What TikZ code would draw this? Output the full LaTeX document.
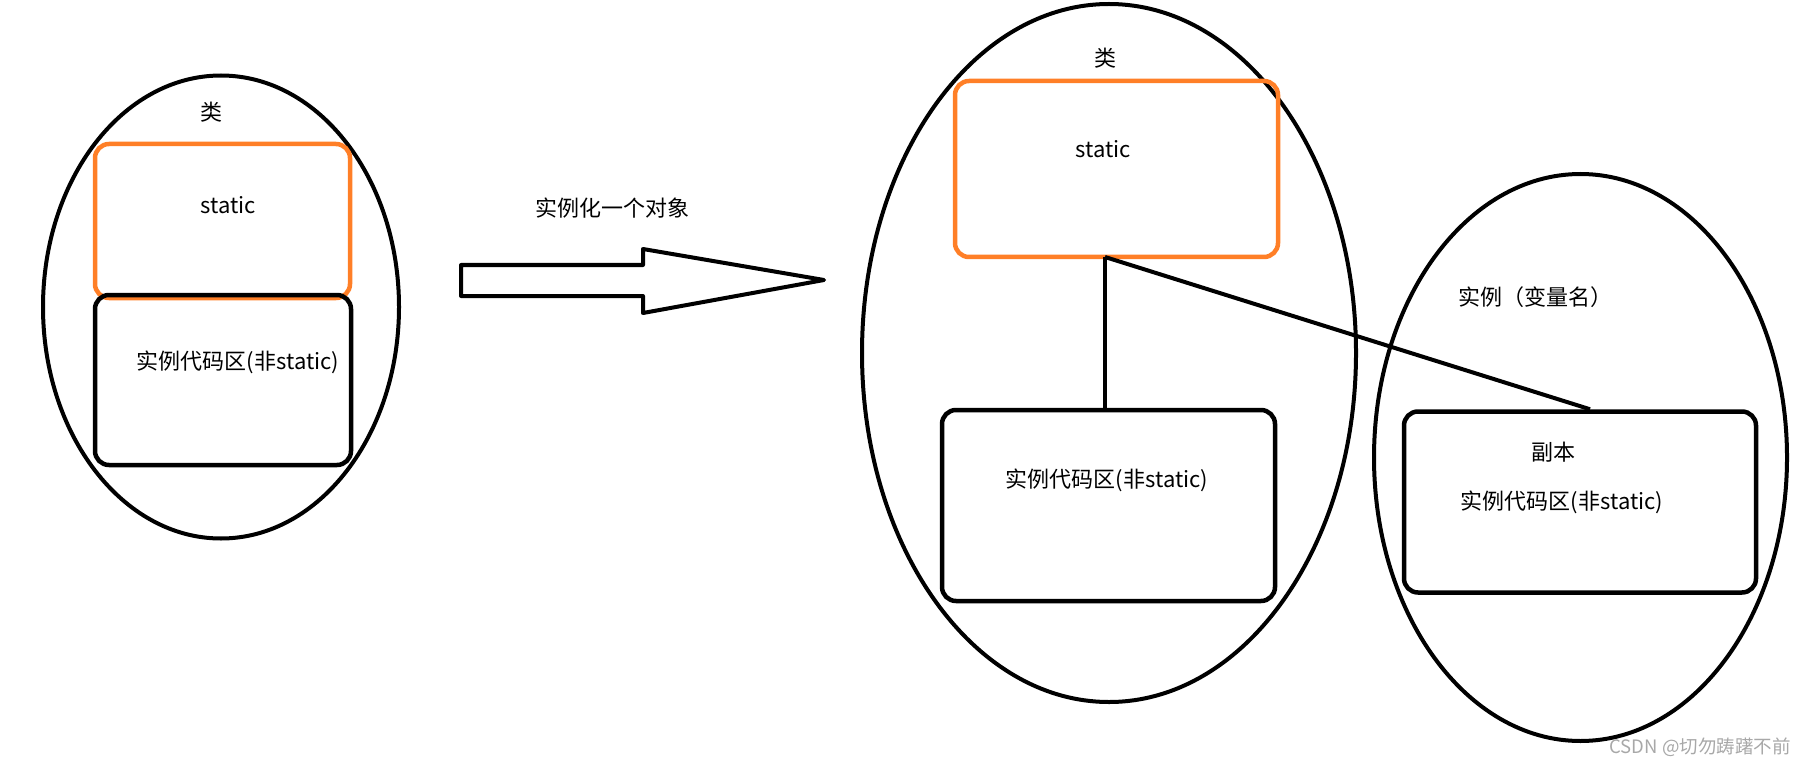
\documentclass[tikz,border=0pt]{standalone}
\usepackage{fontspec}
\setmainfont{Noto Sans CJK SC}
\usetikzlibrary{shapes.geometric}
\definecolor{paintorange}{HTML}{FF7F27}
\definecolor{wmgray}{HTML}{A8A8A8}
\tikzset{
  oval/.style={draw=black, line width=4pt, ellipse, inner sep=0pt},
  statbox/.style={draw=paintorange, line width=4.5pt, rounded corners=14pt, inner sep=0pt},
  codebox/.style={draw=black, line width=4.5pt, rounded corners=14pt, inner sep=0pt},
  lbl/.style={inner sep=0pt, font=\fontsize{22}{26}\selectfont},
  link/.style={draw=black, line width=4pt},
}
\begin{document}
\begin{tikzpicture}[x=1pt, y=-1pt]
\useasboundingbox (0,0) rectangle (1811,767);
% left class
\node[oval, minimum width=356pt, minimum height=463pt] (e1) at (221,307) {};
\node[statbox, minimum width=255pt, minimum height=154pt] (s1) at (222.5,221) {};
\node[codebox, minimum width=256pt, minimum height=170pt] (c1) at (223,380) {};
\node[lbl] (t1) at (211,112) {类};
\node[lbl] (t2) at (228,205) {static};
\node[lbl] (t3) at (238,362) {实例代码区(非static)};
% arrow
\node[lbl] (t4) at (612,208) {实例化一个对象};
\draw[line width=4pt, line join=round] (461,265) -- (643,265) -- (643,249) -- (824,280) -- (643,313) -- (643,296) -- (461,296) -- cycle;
% middle class
\node[oval, minimum width=494pt, minimum height=698pt] (e2) at (1109,353) {};
\node[statbox, minimum width=323pt, minimum height=176pt] (s2) at (1116.5,169) {};
\node[codebox, minimum width=333pt, minimum height=191pt] (c2) at (1108.5,505.5) {};
\node[lbl] (t5) at (1105,58) {类};
\node[lbl] (t6) at (1103,149) {static};
\node[lbl] (t7) at (1107,480) {实例代码区(非static)};
% right instance
\node[oval, minimum width=413pt, minimum height=567pt] (e3) at (1580.5,457.5) {};
\node[codebox, minimum width=352pt, minimum height=181pt] (c3) at (1580,502) {};
\node[lbl] (t8) at (1535,297) {实例（变量名）};
\node[lbl] (t9) at (1553,452) {副本};
\node[lbl] (t10) at (1562,502) {实例代码区(非static)};
% connectors
\coordinate (j) at (1105,257);
\coordinate (k) at ([xshift=10pt]c3.north);
\draw[link] (j) -- (j |- c2.north);
\draw[link] (j) -- (k);
% watermark
\node[inner sep=0pt, text=wmgray, font=\fontsize{18.5}{22}\selectfont] (wm) at (1700,747) {CSDN @切勿踌躇不前};
\end{tikzpicture}
\end{document}
